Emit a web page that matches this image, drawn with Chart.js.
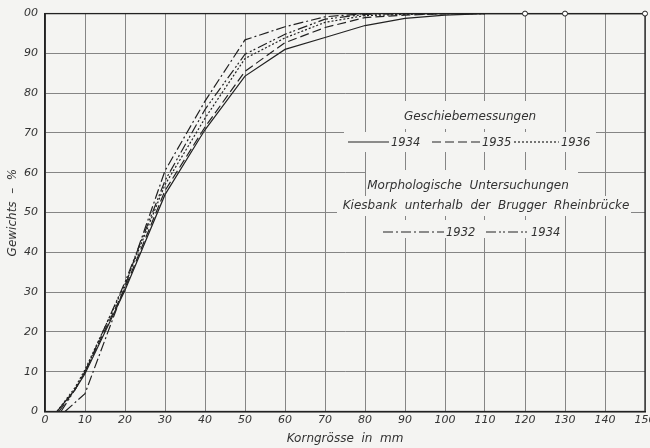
<!DOCTYPE html>
<html>
<head>
<meta charset="utf-8">
<script src="https://cdn.jsdelivr.net/npm/chart.js@4/dist/chart.umd.min.js"></script>
<style>
  html, body { margin: 0; padding: 0; background: #f4f4f2; overflow: hidden; width: 650px; height: 448px; }
  #wrap { width: 660px; height: 448px; }
</style>
</head>
<body>
<div id="wrap"><canvas id="c" width="660" height="448"></canvas></div>
<script>
// ---- data ----
const xTickLabels = ['0','10','20','30','40','50','60','70','80','90','100','110','120','130','140','150'];
const yTickLabels = ['0','10','20','30','40','50','60','70','80','90','00'];

// Geschiebemessungen 1934 (solid)
const geschiebe1934X = [3, 7.5, 10, 20, 30, 40, 50, 60, 70, 80, 90, 100, 110, 120, 130, 150];
const geschiebe1934Y = [0, 5.5, 9.5, 30.5, 54.5, 70.8, 84.3, 91.0, 94.0, 97.0, 98.8, 99.6, 100, 100, 100, 100];
// Geschiebemessungen 1935 (dashed)
const geschiebe1935X = [3.5, 7.5, 10, 20, 30, 40, 50, 60, 70, 80, 90, 100, 110];
const geschiebe1935Y = [0, 5.5, 10, 31, 55.5, 71.5, 85.5, 92.7, 96.5, 99.0, 99.6, 100, 100];
// Geschiebemessungen 1936 (dotted)
const geschiebe1936X = [3, 7.5, 10, 20, 30, 40, 50, 60, 70, 80, 90, 100, 110];
const geschiebe1936Y = [0, 6, 10.5, 32, 57, 73.7, 88.7, 93.9, 97.8, 99.5, 99.8, 100, 100];
// Morphologische Untersuchungen 1932 (dash-dot)
const morph1932X = [5, 10, 20, 30, 40, 50, 60, 70, 80, 90, 100];
const morph1932Y = [0, 4.5, 31.5, 60.5, 78.0, 93.4, 96.7, 99.2, 100, 100, 100];
// Morphologische Untersuchungen 1934 (dash-dot-dot)
const morph1934X = [4, 7.5, 10, 20, 30, 40, 50, 60, 70, 80, 90, 100];
const morph1934Y = [0, 5.5, 10, 32.5, 58, 75.9, 89.8, 94.8, 98.6, 99.8, 100, 100];

// sieve sizes marked with small circles
const markedSizes = [120, 130, 150];

const legendTitle1 = 'Geschiebemessungen';
const legendTitle2 = 'Morphologische  Untersuchungen';
const legendTitle3 = 'Kiesbank  unterhalb  der  Brugger  Rheinbrücke';
const xTitle = 'Korngrösse  in  mm';
const yTitle = 'Gewichts  –  %';

function pts(xs, ys) { return xs.map((x, i) => ({ x: x, y: ys[i] })); }

const INK = '#222';
const TXT = '#333';
const GRID = '#858585';
const BG = '#f4f4f2';
const FONT = '"DejaVu Sans", sans-serif';

const DASH = {
  solid: [],
  dashed: [9, 4],
  dotted: [2, 2],
  dashdot: [10, 3, 2, 3],
  dashdotdot: [10, 3, 2, 2, 2, 3]
};

function ds(label, xs, ys, dash, extra) {
  return Object.assign({
    label: label,
    data: pts(xs, ys),
    borderColor: INK,
    borderWidth: 1.2,
    borderDash: dash,
    pointRadius: 0,
    fill: false,
    tension: 0,
    clip: 6
  }, extra || {});
}

const datasets = [
  ds('Geschiebemessungen 1934', geschiebe1934X, geschiebe1934Y, DASH.solid, {
    pointRadius: (c) => (c.raw && markedSizes.includes(c.raw.x)) ? 2.5 : 0,
    pointBackgroundColor: '#fff',
    pointBorderColor: INK,
    pointBorderWidth: 1
  }),
  ds('Geschiebemessungen 1935', geschiebe1935X, geschiebe1935Y, DASH.dashed),
  ds('Geschiebemessungen 1936', geschiebe1936X, geschiebe1936Y, DASH.dotted),
  ds('Morphologische Untersuchungen 1932', morph1932X, morph1932Y, DASH.dashdot),
  ds('Morphologische Untersuchungen 1934', morph1934X, morph1934Y, DASH.dashdotdot)
];

const bgPlugin = {
  id: 'bg',
  beforeDraw(chart) {
    const c = chart.ctx;
    c.save();
    c.fillStyle = BG;
    c.fillRect(0, 0, chart.width, chart.height);
    c.restore();
  }
};

// legend drawn as text block inside the plot (masks grid behind it)
const legendPlugin = {
  id: 'inlineLegend',
  beforeDatasetsDraw(chart) {
    const c = chart.ctx;
    const a = chart.chartArea;
    c.save();
    // frame
    c.strokeStyle = INK;
    c.lineWidth = 1.3;
    c.strokeRect(a.left, a.top, a.right - a.left, a.bottom - a.top);

    c.fillStyle = BG;
    const masks = [
      [405, 101, 155, 28],
      [344, 132, 252, 20],
      [366, 170, 212, 26],
      [337, 196, 294, 20],
      [376, 220, 185, 18]
    ];
    masks.forEach(m => c.fillRect(m[0], m[1], m[2], m[3]));

    c.fillStyle = TXT;
    c.font = 'italic 12px ' + FONT;
    c.textBaseline = 'middle';
    c.textAlign = 'center';
    c.fillText(legendTitle1, 470, 117);
    c.fillText(legendTitle2, 468, 186);
    c.fillText(legendTitle3, 486, 206);

    c.font = 'italic 11.5px ' + FONT;
    c.textAlign = 'left';
    const sample = (x1, x2, y, dash, label) => {
      c.beginPath();
      c.setLineDash(dash);
      c.strokeStyle = INK;
      c.lineWidth = 1.2;
      c.moveTo(x1, y);
      c.lineTo(x2, y);
      c.stroke();
      c.setLineDash([]);
      c.fillText(label, x2 + 2, y + 1);
    };
    sample(348, 389, 142, DASH.solid, '1934');
    sample(432, 480, 142, DASH.dashed, '1935');
    sample(514, 559, 142, DASH.dotted, '1936');
    sample(383, 444, 232, DASH.dashdot, '1932');
    sample(486, 529, 232, DASH.dashdotdot, '1934');
    c.restore();
  }
};

new Chart(document.getElementById('c'), {
  type: 'line',
  data: { datasets: datasets },
  plugins: [bgPlugin, legendPlugin],
  options: {
    responsive: false,
    animation: false,
    layout: { padding: { top: 12.5, right: 15, left: 0, bottom: 0 } },
    plugins: { legend: { display: false }, tooltip: { enabled: false } },
    scales: {
      x: {
        type: 'linear',
        min: 0, max: 150,
        afterFit(s) { s.height = 36.5; },
        grid: { color: GRID, lineWidth: 1, drawTicks: false },
        border: { display: true, color: INK, width: 1.5 },
        ticks: {
          stepSize: 10,
          padding: 2,
          color: TXT,
          font: { family: FONT, size: 11, style: 'italic' },
          maxRotation: 0,
          autoSkip: false,
          callback: (v) => xTickLabels[Math.round(v / 10)]
        },
        title: {
          display: true,
          text: xTitle,
          color: TXT,
          font: { family: FONT, size: 12, style: 'italic' },
          padding: { top: 0, bottom: 2 }
        }
      },
      y: {
        type: 'linear',
        min: 0, max: 100,
        afterFit(s) { s.width = 45; },
        grid: { color: GRID, lineWidth: 1, drawTicks: false },
        border: { display: true, color: INK, width: 1.5 },
        ticks: {
          stepSize: 10,
          padding: 7,
          color: TXT,
          font: { family: FONT, size: 11, style: 'italic' },
          autoSkip: false,
          callback: (v) => yTickLabels[Math.round(v / 10)]
        },
        title: {
          display: true,
          text: yTitle,
          color: TXT,
          font: { family: FONT, size: 12, style: 'italic' },
          padding: { top: 6, bottom: 0 }
        }
      }
    }
  }
});
</script>
</body>
</html>
